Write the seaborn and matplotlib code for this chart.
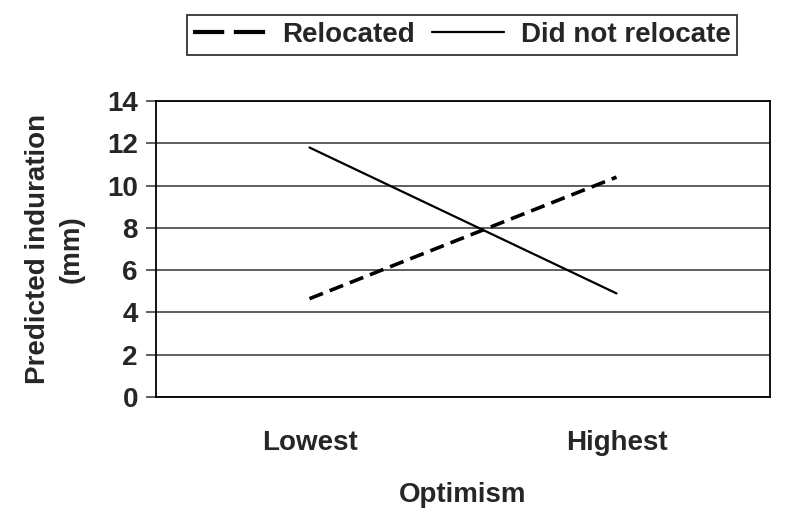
import matplotlib
matplotlib.use('Agg')
import matplotlib.pyplot as plt
from matplotlib.lines import Line2D
import pandas as pd
import seaborn as sns

# Values
optimism = ['Lowest', 'Highest']
relocated = [4.65, 10.4]
not_relocated = [11.8, 4.9]
groups = ['Relocated', 'Did not relocate']

df = pd.DataFrame({
    'Optimism': optimism * 2,
    'induration': relocated + not_relocated,
    'group': [groups[0]] * 2 + [groups[1]] * 2,
})

sns.set_style('white')
plt.rcParams['font.family'] = ['Liberation Sans', 'DejaVu Sans']
plt.rcParams['font.weight'] = 'bold'
FS = 20

fig = plt.figure(figsize=(7.86, 5.21), dpi=100)
ax = fig.add_axes([156 / 786, 1 - 397 / 521, 614 / 786, 296 / 521])

sns.lineplot(data=df, x='Optimism', y='induration', style='group',
             style_order=groups, dashes={groups[0]: (4, 2), groups[1]: ''},
             color='black', ax=ax, legend=False)
lines = ax.get_lines()
lines[0].set_linewidth(2.6)
lines[1].set_linewidth(1.6)

ax.set_xlim(-0.5, 1.5)
ax.set_ylim(0, 14)
ax.set_yticks(range(0, 15, 2))
ax.yaxis.grid(True, color='#333333', linewidth=1.1)
ax.set_axisbelow(True)
for s in ax.spines.values():
    s.set_color('black')
    s.set_linewidth(1.3)
ax.tick_params(axis='y', left=True, length=7, width=1.1, color='#333333',
               labelsize=FS, pad=6)
ax.tick_params(axis='x', bottom=False, labelsize=FS, pad=20)
for lab in ax.get_xticklabels() + ax.get_yticklabels():
    lab.set_fontweight('bold')

ax.set_xlabel('Optimism', fontsize=FS, fontweight='bold', labelpad=19)
ax.set_ylabel('Predicted induration\n(mm)', fontsize=FS, fontweight='bold',
              labelpad=16, linespacing=1.4)

# legend handles: two long dashes for "Relocated"
handles = [Line2D([], [], color='black', lw=3.0, dashes=(7.5, 2.3)),
           Line2D([], [], color='black', lw=1.6)]
leg = fig.legend(handles, groups, loc='center', ncol=2,
                 bbox_to_anchor=(462 / 786, 1 - 35 / 521),
                 frameon=True, fancybox=False, handlelength=2.6,
                 columnspacing=0.6, handletextpad=0.6,
                 prop={'size': FS, 'weight': 'bold'}, borderpad=0.25)
leg.get_frame().set_edgecolor('black')
leg.get_frame().set_linewidth(1.3)

fig.savefig('out.png', dpi=100)
